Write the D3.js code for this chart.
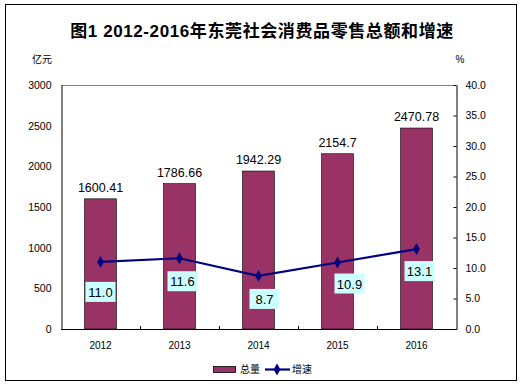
<!DOCTYPE html>
<html>
<head>
<meta charset="utf-8">
<script src="https://cdn.jsdelivr.net/npm/d3@7"></script>
<style>
  body { margin: 0; background: #fff; }
  svg text { font-family: "Liberation Sans", Arial, "Noto Sans CJK SC", sans-serif; }
</style>
</head>
<body>
<div id="chart"></div>
<script>
(function () {

  // data
  const years = ["2012", "2013", "2014", "2015", "2016"];
  const totals = [1600.41, 1786.66, 1942.29, 2154.7, 2470.78];
  const totalLabels = ["1600.41", "1786.66", "1942.29", "2154.7", "2470.78"];
  const rates = [11.0, 11.6, 8.7, 10.9, 13.1];
  const leftTicks = [0, 500, 1000, 1500, 2000, 2500, 3000];
  const rightTicks = [0, 5, 10, 15, 20, 25, 30, 35, 40];

  const W = 528, H = 386;
  const plot = { left: 61, right: 456, top: 85, bottom: 329 };

  const svg = d3.select("#chart").append("svg")
    .attr("width", W).attr("height", H);

  // outer frame
  svg.append("rect")
    .attr("x", 5.5).attr("y", 4.5)
    .attr("width", 511).attr("height", 376)
    .attr("fill", "#fff").attr("stroke", "#000").attr("stroke-width", 1);

  const x = d3.scaleBand().domain(years).range([plot.left, plot.right]);
  const yL = d3.scaleLinear().domain([0, 3000]).range([plot.bottom, plot.top]);
  const yR = d3.scaleLinear().domain([0, 40]).range([plot.bottom, plot.top]);

  // title
  svg.append("text")
    .attr("x", 262).attr("y", 37)
    .attr("text-anchor", "middle")
    .style("font-size", "17px").style("font-weight", "bold")
    .style("letter-spacing", "0.6px")
    .style("font-family", "'Liberation Sans', 'Noto Sans CJK SC', sans-serif")
    .text("图1  2012-2016年东莞社会消费品零售总额和增速");

  svg.append("text").attr("x", 42).attr("y", 63).attr("text-anchor", "middle")
    .style("font-size", "10px").style("font-family", "'Noto Sans CJK SC', sans-serif")
    .text("亿元");
  svg.append("text").attr("x", 460).attr("y", 63).attr("text-anchor", "middle")
    .style("font-size", "10px").text("%");

  // top frame line
  svg.append("line")
    .attr("x1", plot.left).attr("x2", plot.right)
    .attr("y1", plot.top + 0.5).attr("y2", plot.top + 0.5)
    .attr("stroke", "#808080");

  // bars
  const bw = 32;
  svg.selectAll("rect.bar")
    .data(years)
    .enter().append("rect")
    .attr("class", "bar")
    .attr("x", d => x(d) + x.bandwidth() / 2 - bw / 2)
    .attr("width", bw)
    .attr("y", (d, i) => yL(totals[i]))
    .attr("height", (d, i) => plot.bottom - yL(totals[i]))
    .attr("fill", "#993366")
    .attr("stroke", "#000").attr("stroke-width", 0.6);

  svg.selectAll("text.tot")
    .data(years)
    .enter().append("text")
    .attr("x", d => x(d) + x.bandwidth() / 2)
    .attr("y", (d, i) => yL(totals[i]) - 7)
    .attr("text-anchor", "middle")
    .style("font-size", "12.5px")
    .text((d, i) => totalLabels[i]);

  // left axis
  const axL = svg.append("g")
    .attr("transform", `translate(${plot.left + 0.5},0)`)
    .call(d3.axisLeft(yL).tickValues(leftTicks).tickFormat(d3.format("d"))
      .tickSize(0).tickPadding(10));
  axL.select(".domain").attr("stroke", "#000");
  axL.selectAll("text").style("font-size", "10.5px").attr("fill", "#000")
    .style("font-family", "'Liberation Sans', Arial, sans-serif");

  // right axis
  const axR = svg.append("g")
    .attr("transform", `translate(${plot.right + 0.5},0)`)
    .call(d3.axisRight(yR).tickValues(rightTicks).tickFormat(d3.format(".1f"))
      .tickSizeInner(-3).tickSizeOuter(0).tickPadding(9));
  axR.select(".domain").attr("stroke", "#000");
  axR.selectAll("line").attr("stroke", "#000");
  axR.selectAll("text").style("font-size", "10.5px").attr("fill", "#000")
    .style("font-family", "'Liberation Sans', Arial, sans-serif");

  // bottom axis
  svg.append("line")
    .attr("x1", plot.left).attr("x2", plot.right + 1)
    .attr("y1", plot.bottom + 0.5).attr("y2", plot.bottom + 0.5)
    .attr("stroke", "#000");
  svg.selectAll("line.cat")
    .data(years.slice(1))
    .enter().append("line")
    .attr("x1", d => Math.round(x(d)) + 0.5).attr("x2", d => Math.round(x(d)) + 0.5)
    .attr("y1", plot.bottom).attr("y2", plot.bottom - 3)
    .attr("stroke", "#000");
  svg.selectAll("text.year")
    .data(years)
    .enter().append("text")
    .attr("x", d => x(d) + x.bandwidth() / 2)
    .attr("y", 349)
    .attr("text-anchor", "middle")
    .style("font-size", "10px")
    .text(d => d);

  // rate line
  const line = d3.line()
    .x((d, i) => x(years[i]) + x.bandwidth() / 2)
    .y(d => yR(d));
  svg.append("path")
    .datum(rates)
    .attr("d", line)
    .attr("fill", "none")
    .attr("stroke", "#000080")
    .attr("stroke-width", 2.2);

  const diamond = d3.symbol().type(d3.symbolDiamond).size(40);
  svg.selectAll("path.mk")
    .data(rates)
    .enter().append("path")
    .attr("transform", (d, i) => `translate(${x(years[i]) + x.bandwidth() / 2},${yR(d)})`)
    .attr("d", diamond)
    .attr("fill", "#000080");

  // rate labels
  const shiftX = [0, 3, 6, 12, 3];
  const shiftY = [30, 23, 23, 21, 22];
  const lbl = svg.selectAll("g.rl")
    .data(rates)
    .enter().append("g")
    .attr("transform", (d, i) =>
      `translate(${x(years[i]) + x.bandwidth() / 2 + shiftX[i]},${yR(d) + shiftY[i]})`);
  lbl.append("rect")
    .attr("x", -15).attr("y", -10).attr("width", 30).attr("height", 20)
    .attr("fill", "#ccffff");
  lbl.append("text")
    .attr("y", 5)
    .attr("text-anchor", "middle")
    .style("font-size", "13px")
    .text(d => d3.format(".1f")(d));

  // legend
  svg.append("rect")
    .attr("x", 213.5).attr("y", 366.5).attr("width", 22).attr("height", 6)
    .attr("fill", "#993366").attr("stroke", "#000").attr("stroke-width", 0.8);
  svg.append("text").attr("x", 240).attr("y", 373)
    .style("font-size", "10px").style("font-family", "'Noto Sans CJK SC', sans-serif")
    .text("总量");
  svg.append("line")
    .attr("x1", 265).attr("x2", 290).attr("y1", 369.5).attr("y2", 369.5)
    .attr("stroke", "#000080").attr("stroke-width", 2.2);
  svg.append("path")
    .attr("transform", "translate(277,369.5)")
    .attr("d", diamond).attr("fill", "#000080");
  svg.append("text").attr("x", 292).attr("y", 373)
    .style("font-size", "10px").style("font-family", "'Noto Sans CJK SC', sans-serif")
    .text("增速");

})();
</script>
</body>
</html>
